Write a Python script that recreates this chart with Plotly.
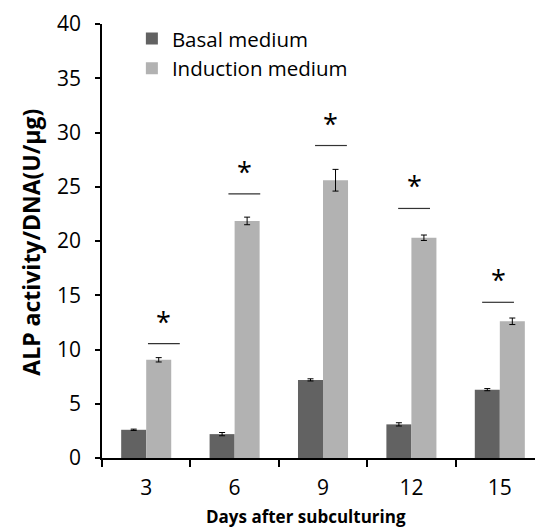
import plotly.graph_objects as go

days = ["3", "6", "9", "12", "15"]
basal = [2.6, 2.2, 7.2, 3.1, 6.3]
basal_err = [0.06, 0.15, 0.1, 0.15, 0.1]
induction = [9.05, 21.85, 25.6, 20.3, 12.6]
induction_err = [0.2, 0.35, 1.0, 0.25, 0.3]
sig_level = [10.55, 24.35, 28.8, 23.0, 14.35]
sig_mark = ["*", "*", "*", "*", "*"]

FONT = "Open Sans"
fig = go.Figure()
fig.add_trace(go.Bar(
    x=days, y=basal, name="Basal medium", marker_color="#626262",
    marker_line_width=0,
    error_y=dict(type="data", array=basal_err, color="black", thickness=1, width=3),
))
fig.add_trace(go.Bar(
    x=days, y=induction, name="Induction medium", marker_color="#b2b2b2",
    marker_line_width=0,
    error_y=dict(type="data", array=induction_err, color="black", thickness=1, width=3),
))

line_shift = [0.2, 0.11, 0.09, 0.03, -0.02]
half = 0.18
for i, (lvl, mk) in enumerate(zip(sig_level, sig_mark)):
    c = i + line_shift[i]
    fig.add_shape(type="line", xref="x", yref="y", x0=c - half, x1=c + half,
                  y0=lvl, y1=lvl, line=dict(color="#333333", width=1.2))
    fig.add_annotation(x=c, y=lvl, xref="x", yref="y", text=mk, showarrow=False,
                       yanchor="bottom", yshift=2,
                       font=dict(family=FONT, size=27, color="black"))

fig.add_annotation(xref="paper", yref="paper", x=0.471, y=-0.134, text="<b>Days after subculturing</b>",
                   showarrow=False, yanchor="middle", xanchor="center",
                   font=dict(family=FONT, size=17, color="black"))
fig.add_annotation(xref="paper", yref="paper", x=-0.163, y=0.497, text="<b>ALP activity/DNA(U/μg)</b>",
                   showarrow=False, textangle=-90, yanchor="middle", xanchor="center",
                   font=dict(family=FONT, size=23, color="black"))

fig.update_layout(
    width=535, height=532,
    margin=dict(l=102, r=0, t=24, b=74),
    paper_bgcolor="white", plot_bgcolor="white",
    barmode="group", bargap=0.434, bargroupgap=0,
    showlegend=True,
    legend=dict(x=0.069, y=1.012, xanchor="left", yanchor="top",
                font=dict(family=FONT, size=20.5, color="black"),
                itemwidth=30, bgcolor="rgba(0,0,0,0)"),
    font=dict(family=FONT, size=17, color="black"),
)
fig.update_xaxes(type="category", range=[-0.5, 4.398], showline=True, linecolor="black",
                 linewidth=1.5, ticks="outside", tickson="boundaries", ticklen=7,
                 tickcolor="black", tickwidth=1.5, showgrid=False, ticklabelstandoff=10,
                 tickfont=dict(family=FONT, size=21, color="black"))
fig.update_yaxes(range=[0, 40], dtick=5, showline=True, linecolor="black", linewidth=1.5,
                 ticks="outside", ticklen=5, tickcolor="black", tickwidth=1.5,
                 showgrid=False, zeroline=False, ticklabelstandoff=10,
                 tickfont=dict(family=FONT, size=21, color="black"))

fig.write_html("out.html")
